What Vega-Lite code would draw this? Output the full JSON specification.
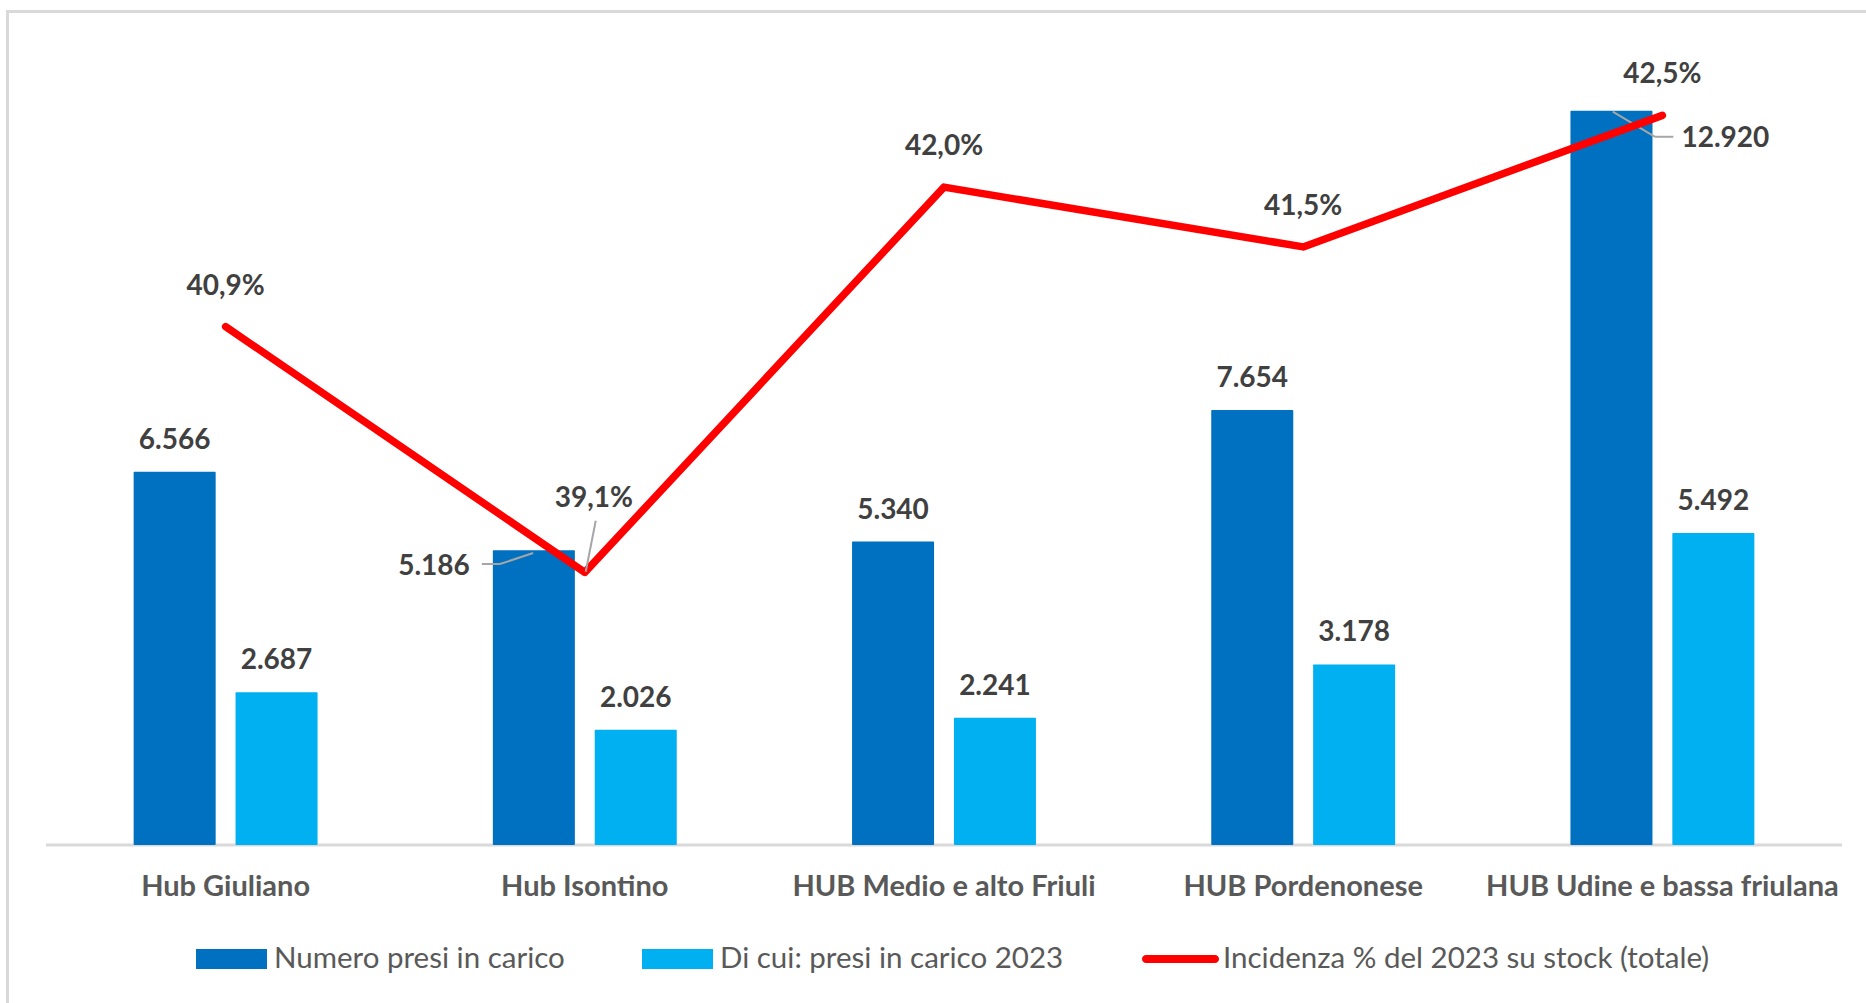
{
  "$schema": "https://vega.github.io/schema/vega-lite/v6.json",
  "width": 1880,
  "height": 1013,
  "autosize": {"type": "none"},
  "padding": {"left": 7.5, "top": 11.5, "right": -21.5, "bottom": -21.5},
  "background": "#ffffff",
  "config": {
    "view": {"stroke": "#D9D9D9", "strokeWidth": 3},
    "font": "Lato",
    "locale": {"number": {"decimal": ",", "thousands": ".", "grouping": [3], "currency": ["€", ""], "percent": "%"}}
  },
  "datasets": {
    "bars": [
      {"hub": "Hub Giuliano", "serie": "Numero presi in carico", "valore": 6566},
      {"hub": "Hub Giuliano", "serie": "Di cui: presi in carico 2023", "valore": 2687},
      {"hub": "Hub Isontino", "serie": "Numero presi in carico", "valore": 5186},
      {"hub": "Hub Isontino", "serie": "Di cui: presi in carico 2023", "valore": 2026},
      {"hub": "HUB Medio e alto Friuli", "serie": "Numero presi in carico", "valore": 5340},
      {"hub": "HUB Medio e alto Friuli", "serie": "Di cui: presi in carico 2023", "valore": 2241},
      {"hub": "HUB Pordenonese", "serie": "Numero presi in carico", "valore": 7654},
      {"hub": "HUB Pordenonese", "serie": "Di cui: presi in carico 2023", "valore": 3178},
      {"hub": "HUB Udine e bassa friulana", "serie": "Numero presi in carico", "valore": 12920},
      {"hub": "HUB Udine e bassa friulana", "serie": "Di cui: presi in carico 2023", "valore": 5492}
    ],
    "incidenza": [
      {"hub": "Hub Giuliano", "incidenza": 0.4092},
      {"hub": "Hub Isontino", "incidenza": 0.3907},
      {"hub": "HUB Medio e alto Friuli", "incidenza": 0.4197},
      {"hub": "HUB Pordenonese", "incidenza": 0.4152},
      {"hub": "HUB Udine e bassa friulana", "incidenza": 0.4251}
    ]
  },
  "layer": [
    {
      "data": {"name": "bars"},
      "layer": [
        {
          "data": {"values": [{}]},
          "mark": {"type": "rule", "color": "#D9D9D9", "strokeWidth": 3},
          "encoding": {
            "x": {"datum": "Hub Giuliano", "bandPosition": -0.4766, "axis": null, "title": null},
            "x2": {"datum": "HUB Udine e bassa friulana", "bandPosition": 1.4766},
            "y": {"datum": 0, "type": "quantitative", "axis": null, "title": null}
          }
        },
        {
          "mark": {"type": "bar", "cornerRadius": 1},
          "encoding": {
            "x": {
              "field": "hub", "type": "nominal", "title": null, "axis": null,
              "sort": ["Hub Giuliano", "Hub Isontino", "HUB Medio e alto Friuli", "HUB Pordenonese", "HUB Udine e bassa friulana"],
              "scale": {"range": [38.5, 1834.5], "paddingInner": 0.488, "paddingOuter": 0.244}
            },
            "xOffset": {
              "field": "serie", "type": "nominal",
              "sort": ["Numero presi in carico", "Di cui: presi in carico 2023"],
              "scale": {"paddingInner": 0.195, "paddingOuter": 0}
            },
            "y": {
              "field": "valore", "type": "quantitative", "stack": null, "title": null,
              "scale": {"domain": [-3158.6, 14666.3], "nice": false},
              "axis": null
            },
            "color": {
              "field": "serie", "type": "nominal",
              "scale": {
                "domain": ["Numero presi in carico", "Di cui: presi in carico 2023", "Incidenza % del 2023 su stock (totale)"],
                "range": ["#0070C0", "#00B0F0", "#FF0000"]
              },
              "legend": {
                "title": null, "orient": "none", "legendX": 188.5, "legendY": 912,
                "direction": "horizontal", "columns": 3, "padding": 0, "columnPadding": 77,
                "labelOffset": 7, "labelFont": "Lato", "labelFontSize": 29.5, "labelColor": "#595959", "labelLimit": 0,
                "symbolSize": 5041, "symbolType": "M-1,-0.282H1V0.282H-1Z", "symbolStrokeWidth": 0, "symbolOpacity": 1,
                "encode": {
                  "symbols": {
                    "update": {
                      "shape": {"signal": "datum.index === 2 ? 'M-0.972,-0.113H0.972A0.113,0.113 0 0 1 0.972,0.113H-0.972A0.113,0.113 0 0 1 -0.972,-0.113Z' : 'M-1,-0.282H1V0.282H-1Z'"},
                      "fill": {"signal": "scale('color', datum.value)"},
                      "strokeWidth": {"value": 0},
                      "opacity": {"value": 1}
                    }
                  }
                }
              }
            }
          }
        },
        {
          "transform": [{"filter": "datum.serie === 'Numero presi in carico'"}],
          "mark": {"type": "text", "dy": 51, "baseline": "alphabetic", "align": "center", "font": "Lato", "fontSize": 29, "fontWeight": "bold", "color": "#595959"},
          "encoding": {
            "x": {"field": "hub", "type": "nominal", "title": null, "axis": null, "sort": ["Hub Giuliano", "Hub Isontino", "HUB Medio e alto Friuli", "HUB Pordenonese", "HUB Udine e bassa friulana"]},
            "y": {"datum": 0, "type": "quantitative", "axis": null, "title": null},
            "text": {"field": "hub", "type": "nominal"}
          }
        },
        {
          "transform": [{"filter": "!((datum.hub === 'Hub Isontino' || datum.hub === 'HUB Udine e bassa friulana') && datum.serie === 'Numero presi in carico')"}],
          "mark": {"type": "text", "dy": -23, "baseline": "alphabetic", "align": "center", "font": "Lato", "fontSize": 28, "fontWeight": "bold", "color": "#404040"},
          "encoding": {
            "x": {"field": "hub", "type": "nominal", "title": null, "axis": null, "sort": ["Hub Giuliano", "Hub Isontino", "HUB Medio e alto Friuli", "HUB Pordenonese", "HUB Udine e bassa friulana"]},
            "xOffset": {"field": "serie", "type": "nominal", "sort": ["Numero presi in carico", "Di cui: presi in carico 2023"]},
            "y": {"field": "valore", "type": "quantitative", "stack": null, "title": null, "axis": null},
            "text": {"field": "valore", "type": "quantitative", "format": ",.0f"}
          }
        },
        {
          "transform": [{"filter": "datum.hub === 'Hub Isontino' && datum.serie === 'Numero presi in carico'"}],
          "mark": {"type": "text", "dx": -64, "dy": 24.7, "baseline": "alphabetic", "align": "right", "font": "Lato", "fontSize": 28, "fontWeight": "bold", "color": "#404040"},
          "encoding": {
            "x": {"field": "hub", "type": "nominal", "title": null, "axis": null, "sort": ["Hub Giuliano", "Hub Isontino", "HUB Medio e alto Friuli", "HUB Pordenonese", "HUB Udine e bassa friulana"]},
            "xOffset": {"field": "serie", "type": "nominal", "sort": ["Numero presi in carico", "Di cui: presi in carico 2023"]},
            "y": {"field": "valore", "type": "quantitative", "stack": null, "title": null, "axis": null},
            "text": {"field": "valore", "type": "quantitative", "format": ",.0f"}
          }
        },
        {
          "transform": [{"filter": "datum.hub === 'HUB Udine e bassa friulana' && datum.serie === 'Numero presi in carico'"}],
          "mark": {"type": "text", "dx": 70, "dy": 36, "baseline": "alphabetic", "align": "left", "font": "Lato", "fontSize": 28, "fontWeight": "bold", "color": "#404040"},
          "encoding": {
            "x": {"field": "hub", "type": "nominal", "title": null, "axis": null, "sort": ["Hub Giuliano", "Hub Isontino", "HUB Medio e alto Friuli", "HUB Pordenonese", "HUB Udine e bassa friulana"]},
            "xOffset": {"field": "serie", "type": "nominal", "sort": ["Numero presi in carico", "Di cui: presi in carico 2023"]},
            "y": {"field": "valore", "type": "quantitative", "stack": null, "title": null, "axis": null},
            "text": {"field": "valore", "type": "quantitative", "format": ",.0f"}
          }
        },
        {
          "data": {"values": [{}]},
          "mark": {"type": "rule", "color": "#A6A6A6", "strokeWidth": 2},
          "encoding": {
            "x": {"datum": "Hub Isontino", "bandPosition": -0.06, "axis": null, "title": null},
            "x2": {"datum": "Hub Isontino", "bandPosition": 0.039},
            "y": {"datum": 4944, "type": "quantitative", "axis": null, "title": null},
            "y2": {"datum": 4944}
          }
        },
        {
          "data": {"values": [{}]},
          "mark": {"type": "rule", "color": "#A6A6A6", "strokeWidth": 2},
          "encoding": {
            "x": {"datum": "Hub Isontino", "bandPosition": 0.039, "axis": null, "title": null},
            "x2": {"datum": "Hub Isontino", "bandPosition": 0.219},
            "y": {"datum": 4944, "type": "quantitative", "axis": null, "title": null},
            "y2": {"datum": 5138}
          }
        },
        {
          "data": {"values": [{}]},
          "mark": {"type": "rule", "color": "#A6A6A6", "strokeWidth": 2},
          "encoding": {
            "x": {"datum": "HUB Udine e bassa friulana", "bandPosition": 0.23, "axis": null, "title": null},
            "x2": {"datum": "HUB Udine e bassa friulana", "bandPosition": 0.46},
            "y": {"datum": 12903, "type": "quantitative", "axis": null, "title": null},
            "y2": {"datum": 12462}
          }
        },
        {
          "data": {"values": [{}]},
          "mark": {"type": "rule", "color": "#A6A6A6", "strokeWidth": 2},
          "encoding": {
            "x": {"datum": "HUB Udine e bassa friulana", "bandPosition": 0.46, "axis": null, "title": null},
            "x2": {"datum": "HUB Udine e bassa friulana", "bandPosition": 0.5595},
            "y": {"datum": 12462, "type": "quantitative", "axis": null, "title": null},
            "y2": {"datum": 12462}
          }
        }
      ]
    },
    {
      "data": {"name": "incidenza"},
      "layer": [
        {
          "mark": {"type": "line", "strokeWidth": 7.5, "strokeCap": "round", "strokeJoin": "round"},
          "encoding": {
            "x": {"field": "hub", "type": "nominal", "title": null, "axis": null, "sort": ["Hub Giuliano", "Hub Isontino", "HUB Medio e alto Friuli", "HUB Pordenonese", "HUB Udine e bassa friulana"]},
            "y": {"field": "incidenza", "type": "quantitative", "title": null, "axis": null, "scale": {"domain": [0.35667, 0.43292], "nice": false, "zero": false}},
            "color": {"datum": "Incidenza % del 2023 su stock (totale)", "type": "nominal"}
          }
        },
        {
          "transform": [{"filter": "datum.hub !== 'Hub Isontino'"}],
          "mark": {"type": "text", "dy": -32, "baseline": "alphabetic", "align": "center", "font": "Lato", "fontSize": 28, "fontWeight": "bold", "color": "#404040"},
          "encoding": {
            "x": {"field": "hub", "type": "nominal", "title": null, "axis": null, "sort": ["Hub Giuliano", "Hub Isontino", "HUB Medio e alto Friuli", "HUB Pordenonese", "HUB Udine e bassa friulana"]},
            "y": {"field": "incidenza", "type": "quantitative", "title": null, "axis": null},
            "text": {"field": "incidenza", "type": "quantitative", "format": ".1%"}
          }
        },
        {
          "transform": [{"filter": "datum.hub === 'Hub Isontino'"}],
          "mark": {"type": "text", "dx": 9, "dy": -65.4, "baseline": "alphabetic", "align": "center", "font": "Lato", "fontSize": 28, "fontWeight": "bold", "color": "#404040"},
          "encoding": {
            "x": {"field": "hub", "type": "nominal", "title": null, "axis": null, "sort": ["Hub Giuliano", "Hub Isontino", "HUB Medio e alto Friuli", "HUB Pordenonese", "HUB Udine e bassa friulana"]},
            "y": {"field": "incidenza", "type": "quantitative", "title": null, "axis": null},
            "text": {"field": "incidenza", "type": "quantitative", "format": ".1%"}
          }
        },
        {
          "data": {"values": [{}]},
          "mark": {"type": "rule", "color": "#A6A6A6", "strokeWidth": 2},
          "encoding": {
            "x": {"datum": "Hub Isontino", "bandPosition": 0.5595, "axis": null, "title": null},
            "x2": {"datum": "Hub Isontino", "bandPosition": 0.505},
            "y": {"datum": 0.39459, "type": "quantitative", "axis": null, "title": null},
            "y2": {"datum": 0.39075}
          }
        }
      ]
    }
  ],
  "resolve": {"scale": {"y": "independent"}}
}
